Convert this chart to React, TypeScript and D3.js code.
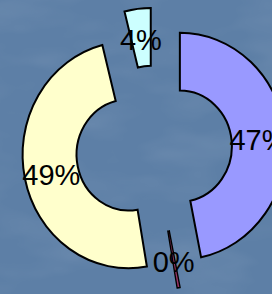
import { useMemo } from 'react';
import * as d3 from 'd3';

const categories = ['A', 'B', 'C', 'D'];
const values = [47, 0.45, 49, 4];
const colors = ['#9999ff', '#993366', '#ffffcc', '#ccffff'];

const W = 272;
const H = 294;

export default function App() {
  // doughnut is a little taller than wide in the source
  const cx = 154;
  const cy = 149;
  const sy = 1.07;
  const rIn = 52;
  const rOut = 106;
  const explode = 26;

  const total = d3.sum(values);
  const arcs = useMemo(
    () =>
      d3
        .pie<number>()
        .sort(null)
        .value((d) => d)(values),
    []
  );
  const arcGen = d3.arc<d3.PieArcDatum<number>>().innerRadius(rIn).outerRadius(rOut);
  const fmt = (v: number) => `${Math.round((v / total) * 100)}%`;

  const offset = (a: d3.PieArcDatum<number>) => {
    const mid = (a.startAngle + a.endAngle) / 2;
    return [Math.sin(mid) * explode, -Math.cos(mid) * explode];
  };

  return (
    <svg
      width={W}
      height={H}
      style={{ position: 'absolute', left: 0, top: 0 }}
      fontFamily="'Liberation Sans', Arial, sans-serif"
    >
      <defs>
        <filter id="tex" x="0" y="0" width="100%" height="100%">
          <feTurbulence type="fractalNoise" baseFrequency="0.012 0.03" numOctaves={3} seed={4} />
          <feColorMatrix
            type="matrix"
            values="0 0 0 0 1  0 0 0 0 1  0 0 0 0 1  0.6 0 0 0 -0.25"
          />
        </filter>
      </defs>
      <rect width={W} height={H} fill="#5d7fa6" />
      <rect width={W} height={H} filter="url(#tex)" opacity={0.25} />

      <g transform={`translate(${cx},${cy}) scale(1,${sy})`}>
        {arcs.map((a, i) => {
          const [dx, dy] = offset(a);
          return (
            <path
              key={categories[i]}
              transform={`translate(${dx},${dy})`}
              d={arcGen(a) ?? ''}
              fill={colors[i]}
              stroke="#000"
              strokeWidth={i === 1 ? 1.4 : 2}
              vectorEffect="non-scaling-stroke"
            />
          );
        })}
      </g>

      {arcs.map((a, i) => {
        const [dx, dy] = offset(a);
        const [lx, ly] = arcGen.centroid(a);
        return (
          <text
            key={`l-${categories[i]}`}
            x={cx + dx + lx}
            y={cy + (dy + ly) * sy}
            dy="0.42em"
            textAnchor="middle"
            fontSize={29}
            fill="#000"
          >
            {fmt(values[i])}
          </text>
        );
      })}
    </svg>
  );
}
